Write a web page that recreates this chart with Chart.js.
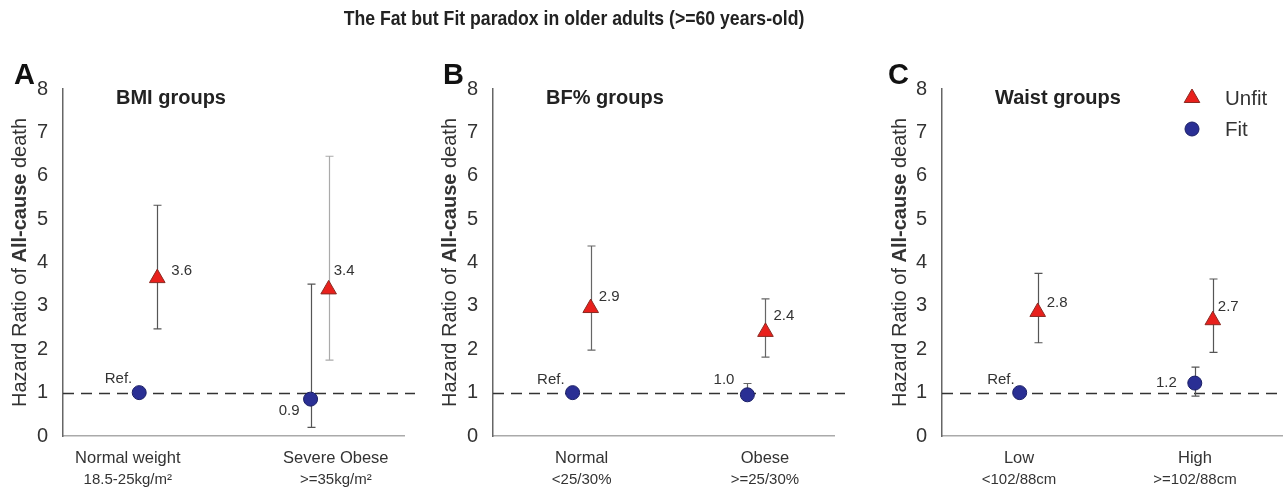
<!DOCTYPE html>
<html>
<head>
<meta charset="utf-8">
<script src="https://cdn.jsdelivr.net/npm/chart.js@4/dist/chart.umd.min.js"></script>
<style>
  html,body{margin:0;padding:0;background:#fff;}
  #wrap{position:relative;width:1283px;height:487px;overflow:hidden;background:#fff;}
  #title{position:absolute;left:574px;top:6px;white-space:nowrap;transform:translateX(-50%) scaleX(0.84);font-family:"Liberation Sans",Arial,sans-serif;font-weight:bold;font-size:21px;color:#222;}
  canvas{position:absolute;top:0;}
</style>
</head>
<body>
<div id="wrap">
  <canvas id="cA" width="430" height="487" style="left:0px"></canvas>
  <canvas id="cB" width="430" height="487" style="left:430px"></canvas>
  <canvas id="cC" width="423" height="487" style="left:860px"></canvas>
  <div id="title">The Fat but Fit paradox in older adults (&gt;=60 years-old)</div>
</div>
<script>
// ---------------- DATA ----------------
const yTicks = [0,1,2,3,4,5,6,7,8];
const seriesNames = ["Unfit","Fit"];

// Panel A: BMI groups
const categoriesA = [["Normal weight","18.5-25kg/m²"],["Severe Obese",">=35kg/m²"]];
const unfitA   = [3.64, 3.38];
const unfitLoA = [2.47, 1.75];
const unfitHiA = [5.32, 6.45];
const fitA     = [1.00, 0.85];
const fitLoA   = [1.00, 0.20];
const fitHiA   = [1.00, 3.50];
const unfitTxtA = ["3.6","3.4"];
const fitTxtA   = ["Ref.","0.9"];

// Panel B: BF% groups
const categoriesB = [["Normal","<25/30%"],["Obese",">=25/30%"]];
const unfitB   = [2.95, 2.40];
const unfitLoB = [1.98, 1.82];
const unfitHiB = [4.38, 3.16];
const fitB     = [1.00, 0.95];
const fitLoB   = [1.00, 0.88];
const fitHiB   = [1.00, 1.21];
const unfitTxtB = ["2.9","2.4"];
const fitTxtB   = ["Ref.","1.0"];

// Panel C: Waist groups
const categoriesC = [["Low","<102/88cm"],["High",">=102/88cm"]];
const unfitC   = [2.86, 2.67];
const unfitLoC = [2.15, 1.93];
const unfitHiC = [3.75, 3.62];
const fitC     = [1.00, 1.22];
const fitLoC   = [1.00, 0.92];
const fitHiC   = [1.00, 1.59];
const unfitTxtC = ["2.8","2.7"];
const fitTxtC   = ["Ref.","1.2"];

// ---------------- STYLE / LAYOUT ----------------
const FONT = "'Liberation Sans', Arial, sans-serif";
const RED = '#e8201c', RED_EDGE = '#8a2a22';
const BLUE = '#2a2f94', BLUE_EDGE = '#1b1f66';

const panels = [
  { id:'cA', letter:'A', letterX:14, sub:'BMI groups', axisW:63, padR:26,
    cats:categoriesA, unfit:unfitA, uLo:unfitLoA, uHi:unfitHiA, fit:fitA, fLo:fitLoA, fHi:fitHiA,
    uTxt:unfitTxtA, fTxt:fitTxtA, centers:[0.5,1.505], tickPos:[0.38,1.6],
    uLab:[[14,-7],[5,-19]], fLab:[[-7,-14,'r'],[-11,12,'r']],
    uBarCol:['#555','#aaa'], fBarCol:['#555','#555'], titleX:20, legend:false },
  { id:'cB', letter:'B', letterX:13, sub:'BF% groups', axisW:63, padR:26,
    cats:categoriesB, unfit:unfitB, uLo:unfitLoB, uHi:unfitHiB, fit:fitB, fLo:fitLoB, fHi:fitHiB,
    uTxt:unfitTxtB, fTxt:fitTxtB, centers:[0.52,1.545], tickPos:[0.52,1.595],
    uLab:[[8,-11],[8,-16]], fLab:[[-8,-13,'r'],[-13,-15,'r']],
    uBarCol:['#666','#666'], fBarCol:['#666','#666'], titleX:20, legend:false },
  { id:'cC', letter:'C', letterX:28, sub:'Waist groups', axisW:82, padR:1,
    cats:categoriesC, unfit:unfitC, uLo:unfitLoC, uHi:unfitHiC, fit:fitC, fLo:fitLoC, fHi:fitHiC,
    uTxt:unfitTxtC, fTxt:fitTxtC, centers:[0.51,1.54], tickPos:[0.453,1.488],
    uLab:[[9,-9],[5,-13]], fLab:[[-5,-13,'r'],[-18,0,'r']],
    uBarCol:['#555','#555'], fBarCol:['#555','#555'], titleX:40, legend:true }
];
const DODGE = 0.053;

const decor = {
  id:'decor',
  beforeDatasetsDraw(chart, args, o){
    const p = o.panel, ctx = chart.ctx, xs = chart.scales.x, ys = chart.scales.y, ca = chart.chartArea;
    ctx.save();
    ctx.strokeStyle = '#333'; ctx.lineWidth = 1.3; ctx.setLineDash([11,7]);
    const y1 = Math.round(ys.getPixelForValue(1)) + 0.5;
    ctx.beginPath(); ctx.moveTo(ca.left, y1); ctx.lineTo(Math.min(ca.right + 11, chart.width), y1); ctx.stroke();
    ctx.setLineDash([]);
    const bars = (vals, lo, hi, off, cols) => {
      vals.forEach((v,i) => {
        if (hi[i] - lo[i] < 0.01) return;
        const x = Math.round(xs.getPixelForValue(p.centers[i] + off)) + 0.5;
        const a = ys.getPixelForValue(lo[i]), b = ys.getPixelForValue(hi[i]);
        ctx.strokeStyle = cols[i]; ctx.lineWidth = 1.2;
        ctx.beginPath();
        ctx.moveTo(x, a); ctx.lineTo(x, b);
        ctx.moveTo(x-4, a); ctx.lineTo(x+4, a);
        ctx.moveTo(x-4, b); ctx.lineTo(x+4, b);
        ctx.stroke();
      });
    };
    bars(p.fit, p.fLo, p.fHi, -DODGE, p.fBarCol);
    bars(p.unfit, p.uLo, p.uHi, DODGE, p.uBarCol);
    ctx.restore();
  },
  afterDraw(chart, args, o){
    const p = o.panel, ctx = chart.ctx, xs = chart.scales.x, ys = chart.scales.y, ca = chart.chartArea;
    ctx.save();
    ctx.fillStyle = '#111'; ctx.font = 'bold 29px ' + FONT; ctx.textBaseline = 'alphabetic'; ctx.textAlign = 'left';
    ctx.fillText(p.letter, p.letterX, 84);
    ctx.fillStyle = '#222'; ctx.font = 'bold 20px ' + FONT; ctx.textBaseline = 'middle';
    ctx.fillText(p.sub, ca.left + 53, 98);
    const parts = [['Hazard Ratio of ', 'normal'], ['All-cause', 'bold'], [' death', 'normal']];
    let total = 0;
    parts.forEach(pt => { ctx.font = pt[1] + ' 20px ' + FONT; pt.push(ctx.measureText(pt[0]).width); total += pt[2]; });
    ctx.translate(p.titleX, (ca.top + ca.bottom) / 2);
    ctx.rotate(-Math.PI / 2);
    ctx.fillStyle = '#333'; ctx.textBaseline = 'middle'; ctx.textAlign = 'left';
    let cx = -total / 2;
    parts.forEach(pt => { ctx.font = pt[1] + ' 20px ' + FONT; ctx.fillText(pt[0], cx, 0); cx += pt[2]; });
    ctx.setTransform(1,0,0,1,0,0);
    ctx.fillStyle = '#333'; ctx.textAlign = 'center'; ctx.textBaseline = 'middle';
    p.cats.forEach((c,i) => {
      const x = xs.getPixelForValue(p.tickPos[i]);
      ctx.font = '16.5px ' + FONT; ctx.fillText(c[0], x, 458);
      ctx.font = '15px ' + FONT; ctx.fillText(c[1], x, 480);
    });
    ctx.font = '15px ' + FONT; ctx.fillStyle = '#333';
    const lab = (vals, txt, off, offs) => {
      vals.forEach((v,i) => {
        const x = xs.getPixelForValue(p.centers[i] + off), y = ys.getPixelForValue(v);
        const d = offs[i];
        ctx.textAlign = d[2] === 'r' ? 'right' : 'left';
        ctx.fillText(txt[i], x + d[0], y + d[1]);
      });
    };
    lab(p.unfit, p.uTxt, DODGE, p.uLab);
    lab(p.fit, p.fTxt, -DODGE, p.fLab);
    if (p.legend) {
      const ds = chart.data.datasets;
      const items = [[ds[0], 98], [ds[1], 129]];
      items.forEach(([d, y]) => {
        const x = 332;
        ctx.fillStyle = d.backgroundColor; ctx.strokeStyle = d.borderColor; ctx.lineWidth = 1;
        Chart.helpers.drawPoint(ctx, {pointStyle: d.pointStyle, radius: d.pointRadius, borderWidth: 1}, x, y);
        ctx.fillStyle = '#333'; ctx.font = '20.5px ' + FONT; ctx.textAlign = 'left'; ctx.textBaseline = 'middle';
        ctx.fillText(d.label, 365, y + 1);
      });
    }
    ctx.restore();
  }
};

panels.forEach(p => {
  new Chart(document.getElementById(p.id), {
    type: 'scatter',
    data: {
      datasets: [
        { label: seriesNames[0], data: p.unfit.map((v,i) => ({x: p.centers[i] + DODGE, y: v})),
          pointStyle: 'triangle', pointRadius: 9, pointHoverRadius: 9,
          backgroundColor: RED, borderColor: RED_EDGE, borderWidth: 1 },
        { label: seriesNames[1], data: p.fit.map((v,i) => ({x: p.centers[i] - DODGE, y: v})),
          pointStyle: 'circle', pointRadius: 7, pointHoverRadius: 7,
          backgroundColor: BLUE, borderColor: BLUE_EDGE, borderWidth: 1 }
      ]
    },
    options: {
      responsive: false, animation: false,
      layout: { autoPadding: false, padding: { top: 89, right: p.padR, bottom: 0, left: 0 } },
      plugins: { legend: { display: false }, tooltip: { enabled: false }, decor: { panel: p } },
      scales: {
        x: { type: 'linear', min: 0, max: 2,
             grid: { display: false }, ticks: { display: false },
             border: { display: true, color: '#aaa', width: 1.5 },
             afterFit: s => { s.height = 51; } },
        y: { type: 'linear', min: yTicks[0], max: yTicks[yTicks.length-1],
             afterBuildTicks: s => { s.ticks = yTicks.map(v => ({value: v})); },
             grid: { display: false },
             border: { display: true, color: '#666', width: 1.5 },
             ticks: { color: '#333', padding: 7, font: { family: FONT, size: 20 } },
             afterFit: s => { s.width = p.axisW; } }
      }
    },
    plugins: [decor]
  });
});
</script>
</body>
</html>
